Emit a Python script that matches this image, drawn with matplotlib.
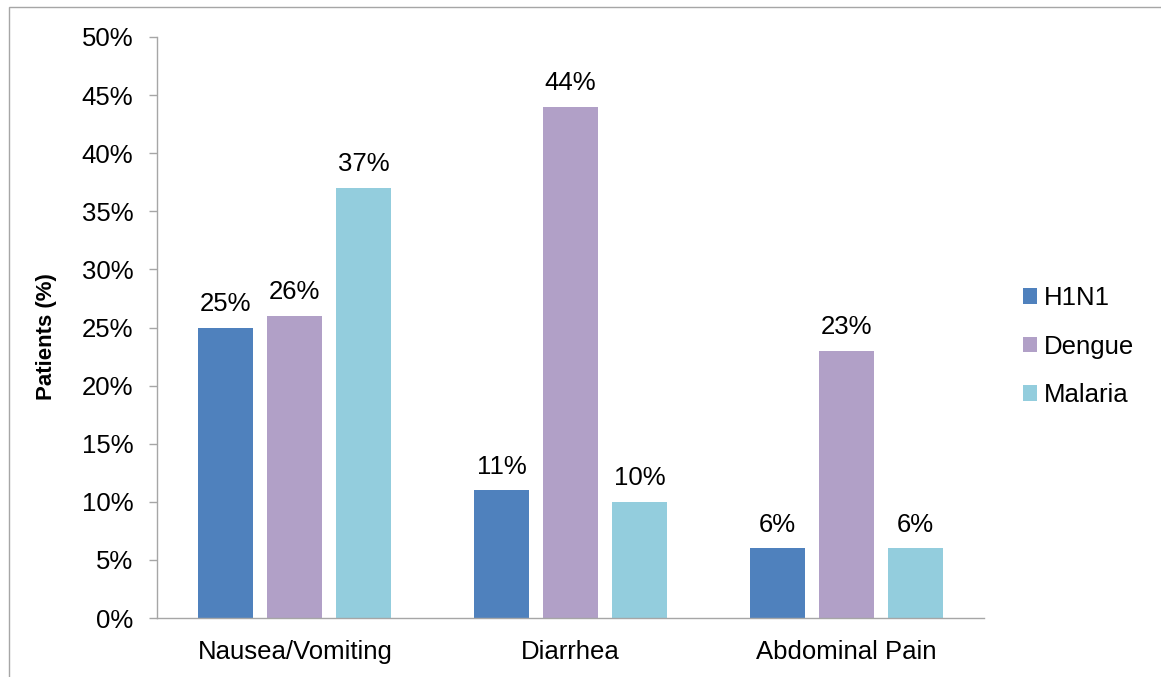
import matplotlib
matplotlib.use("Agg")
import matplotlib.pyplot as plt
import numpy as np
from matplotlib.patches import Rectangle

categories = ["Nausea/Vomiting", "Diarrhea", "Abdominal Pain"]
series = ["H1N1", "Dengue", "Malaria"]
h1n1 = [25, 11, 6]
dengue = [26, 44, 23]
malaria = [37, 10, 6]
colors = ["#4f81bd", "#b1a0c7", "#93cddd"]
yticks = [0, 5, 10, 15, 20, 25, 30, 35, 40, 45, 50]

plt.rcParams['font.family'] = ['Liberation Sans', 'DejaVu Sans']
FS = 18.5

W, H = 1161, 677
fig = plt.figure(figsize=(W/100, H/100), dpi=100)
ax = fig.add_axes([157/W, 1-618/H, (984-157)/W, (618-37)/H])

x = np.arange(len(categories))
offsets = [-0.25, 0, 0.25]
for vals, off, c, name in zip([h1n1, dengue, malaria], offsets, colors, series):
    bars = ax.bar(x + off, vals, width=0.2, color=c, label=name)
    for b, v in zip(bars, vals):
        ax.text(b.get_x() + b.get_width()/2, v + 1.0, f"{v}%", ha='center', va='bottom', fontsize=FS)

ax.set_xlim(-0.5, 2.5)
ax.set_ylim(0, 50)
ax.set_yticks(yticks)
ax.set_yticklabels([f"{t}%" for t in yticks], fontsize=FS)
ax.set_xticks(x)
ax.set_xticklabels(categories, fontsize=FS)
ax.tick_params(axis='x', length=0, pad=16)
ax.tick_params(axis='y', length=6, color='#a6a6a6', pad=11, width=1)
for s in ['top', 'right']:
    ax.spines[s].set_visible(False)
for s in ['left', 'bottom']:
    ax.spines[s].set_color('#a6a6a6')
    ax.spines[s].set_linewidth(1)
ax.set_ylabel("Patients (%)", fontsize=16, fontweight='bold')
ax.yaxis.set_label_coords((57 - 157) / (984 - 157), 0.5 - 9 / 581)

leg = fig.legend(loc='upper left', bbox_to_anchor=(1000/W, 1-263/H), frameon=False,
                 fontsize=FS, handlelength=0.55, handleheight=0.55, handletextpad=0.25,
                 labelspacing=0.95)

fig.patches.append(Rectangle((9/W, -0.1), 1.2, 1-7/H+0.1, transform=fig.transFigure,
                             fill=False, edgecolor='#a6a6a6', linewidth=1))

fig.savefig("out.png", dpi=100)
